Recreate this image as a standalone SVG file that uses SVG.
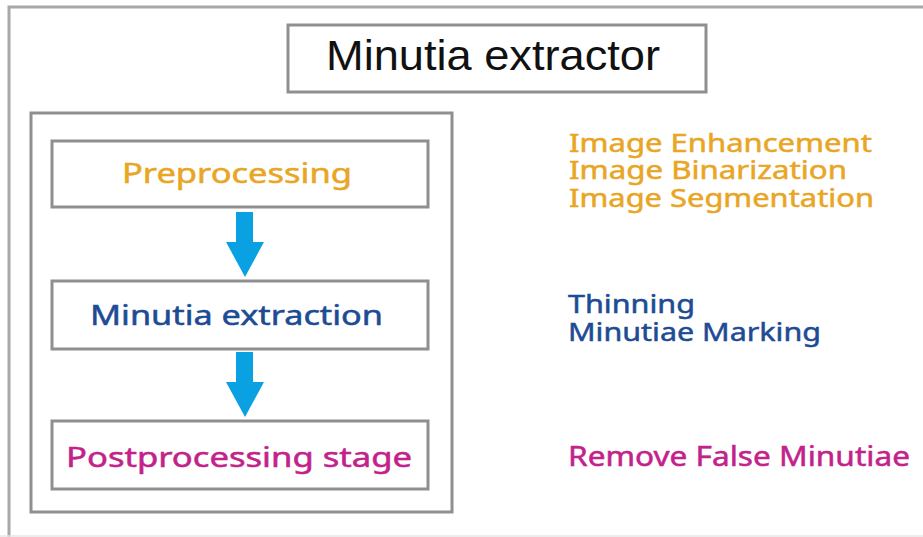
<svg xmlns="http://www.w3.org/2000/svg" width="923" height="537" viewBox="0 0 923 537">
  <style>
    .box { fill: #ffffff; stroke: #8f8f8f; stroke-width: 3; }
    .frame { fill: none; stroke: #a8a8a8; stroke-width: 3; }
    .lbl { font-family: "Noto Sans", "Liberation Sans", sans-serif; stroke-width: 0.5; }
    .title { font-family: "Liberation Sans", "DejaVu Sans", sans-serif; font-size: 42px; fill: #111111; }
    .orange { fill: #E8A624; stroke: #E8A624; }
    .blue { fill: #1D4B94; stroke: #1D4B94; }
    .magenta { fill: #C2228A; stroke: #C2228A; }
    .flow { fill: #0AA1E2; }
  </style>
  <defs>
    <path id="downArrow" d="M -9 0 H 8 V 30 H 19 L 0 65 L -19 30 H -9 Z"/>
  </defs>
  <rect width="923" height="537" fill="#ffffff"/>

  <!-- page frame -->
  <path class="frame" d="M 9 537 V 7 H 923"/>
  <line x1="0" y1="536" x2="923" y2="536" stroke="#e6e6e6" stroke-width="1.5"/>

  <g id="title">
    <rect class="box" x="288" y="25" width="418" height="67"/>
    <text class="title" x="326" y="70" textLength="334" lengthAdjust="spacingAndGlyphs">Minutia extractor</text>
  </g>

  <g id="pipeline-frame">
    <rect class="box" x="31" y="113" width="421" height="399"/>
  </g>

  <g id="preprocessing">
    <rect class="box" x="52" y="141" width="376" height="66"/>
    <text class="lbl orange" x="122" y="183" font-size="27" textLength="230" lengthAdjust="spacingAndGlyphs">Preprocessing</text>
  </g>

  <g id="minutia-extraction">
    <rect class="box" x="52" y="281" width="376" height="68"/>
    <text class="lbl blue" x="90" y="325" font-size="27" textLength="293" lengthAdjust="spacingAndGlyphs">Minutia extraction</text>
  </g>

  <g id="postprocessing">
    <rect class="box" x="52" y="421" width="376" height="68"/>
    <text class="lbl magenta" x="66" y="467" font-size="27" textLength="346" lengthAdjust="spacingAndGlyphs">Postprocessing stage</text>
  </g>

  <g id="connectors">
    <use href="#downArrow" class="flow" x="245" y="212"/>
    <use href="#downArrow" class="flow" x="245" y="352"/>
  </g>

  <g id="preprocessing-notes">
    <text class="lbl orange" font-size="26">
      <tspan x="569" y="152" textLength="303" lengthAdjust="spacingAndGlyphs">Image Enhancement</tspan>
      <tspan x="569" y="179" textLength="278" lengthAdjust="spacingAndGlyphs">Image Binarization</tspan>
      <tspan x="569" y="207" textLength="305" lengthAdjust="spacingAndGlyphs">Image Segmentation</tspan>
    </text>
  </g>

  <g id="extraction-notes">
    <text class="lbl blue" font-size="26">
      <tspan x="568" y="313" textLength="127" lengthAdjust="spacingAndGlyphs">Thinning</tspan>
      <tspan x="568" y="341" textLength="253" lengthAdjust="spacingAndGlyphs">Minutiae Marking</tspan>
    </text>
  </g>

  <g id="postprocessing-notes">
    <text class="lbl magenta" x="568" y="466" font-size="27" textLength="342" lengthAdjust="spacingAndGlyphs">Remove False Minutiae</text>
  </g>
</svg>
